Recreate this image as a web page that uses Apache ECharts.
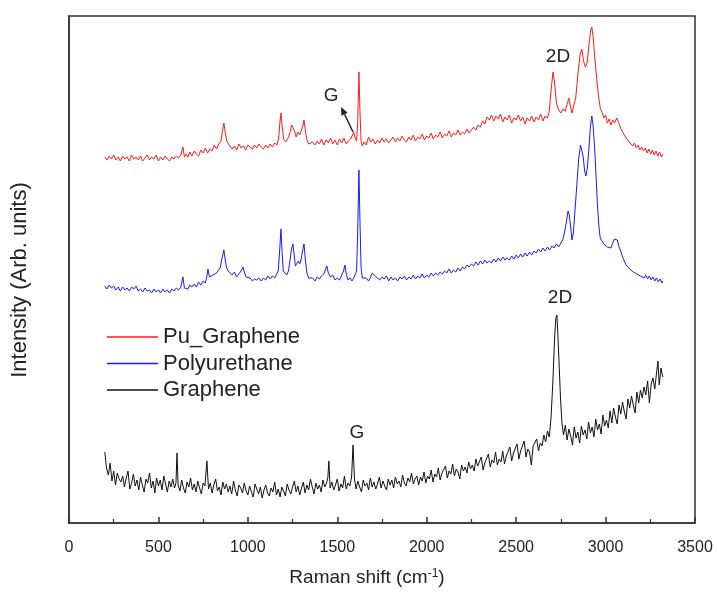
<!DOCTYPE html>
<html><head><meta charset="utf-8">
<script src="https://cdn.jsdelivr.net/npm/echarts@6/dist/echarts.min.js"></script>
<style>html,body{margin:0;padding:0;background:#fff}#c{width:717px;height:593px}</style>
</head><body><div id="c"></div>
<script>
const seriesNames = ['Pu_Graphene', 'Polyurethane', 'Graphene'];
const seriesColors = ['#ff1a1a', '#1a1aff', '#111111'];

// [Raman shift, intensity (arb.)]
const puGraphene = [[200,366],[212,363],[225,367],[237,364],[250,368],[262,363],[275,366],[287,362],[300,367],[312,364],[325,366],[337,362],[350,368],[362,364],[375,366],[387,363],[400,367],[412,362],[425,365],[437,368],[450,363],[462,366],[475,364],[487,368],[500,362],[512,366],[525,363],[537,367],[550,364],[562,362],[575,366],[587,364],[600,367],[612,365],[625,368],[637,376],[645,366],[655,369],[665,366],[675,371],[687,367],[700,372],[712,369],[725,367],[737,373],[750,370],[762,375],[775,370],[787,374],[800,372],[812,378],[825,374],[837,379],[850,382],[858,392],[866,400],[874,390],[882,382],[892,379],[900,377],[912,374],[925,377],[937,373],[950,379],[962,375],[975,377],[987,373],[1000,378],[1012,376],[1025,374],[1037,378],[1050,375],[1062,379],[1075,376],[1087,374],[1100,378],[1112,375],[1125,379],[1137,376],[1150,380],[1162,378],[1172,384],[1179,400],[1185,410],[1191,398],[1200,384],[1212,381],[1225,385],[1235,390],[1245,398],[1252,400],[1260,392],[1270,386],[1280,391],[1290,388],[1300,393],[1308,398],[1314,403],[1322,392],[1330,383],[1340,379],[1350,377],[1362,381],[1375,378],[1387,382],[1400,379],[1412,384],[1425,378],[1437,383],[1450,380],[1462,385],[1475,379],[1487,383],[1500,378],[1512,384],[1525,380],[1537,385],[1550,379],[1562,382],[1575,384],[1585,388],[1592,391],[1600,385],[1608,382],[1614,400],[1621,451],[1627,410],[1633,382],[1640,377],[1650,381],[1662,378],[1675,386],[1687,381],[1700,384],[1712,379],[1725,383],[1737,380],[1750,385],[1762,381],[1775,384],[1787,380],[1800,383],[1812,386],[1825,381],[1837,385],[1850,382],[1862,387],[1875,383],[1887,381],[1900,386],[1912,383],[1925,388],[1937,382],[1950,386],[1962,384],[1975,389],[1987,383],[2000,387],[2012,385],[2025,390],[2037,384],[2050,388],[2062,386],[2075,391],[2087,385],[2100,389],[2112,387],[2125,392],[2137,386],[2150,390],[2162,388],[2175,393],[2187,388],[2200,391],[2212,389],[2225,394],[2237,390],[2250,393],[2262,396],[2275,393],[2287,398],[2300,396],[2312,402],[2325,399],[2337,406],[2350,403],[2362,408],[2375,402],[2387,407],[2400,404],[2412,409],[2425,401],[2437,406],[2450,403],[2462,408],[2475,400],[2487,405],[2500,403],[2512,408],[2525,402],[2537,406],[2550,399],[2562,405],[2575,402],[2587,407],[2600,401],[2612,406],[2625,403],[2637,409],[2650,402],[2662,407],[2675,405],[2685,412],[2695,432],[2706,451],[2715,440],[2725,420],[2737,413],[2750,410],[2762,414],[2775,412],[2785,419],[2795,425],[2803,417],[2812,410],[2823,408],[2833,425],[2845,448],[2857,468],[2867,474],[2877,462],[2887,456],[2897,460],[2907,478],[2917,493],[2923,496],[2931,485],[2940,465],[2950,445],[2960,428],[2970,415],[2980,411],[2990,405],[3000,408],[3010,400],[3020,404],[3030,398],[3040,403],[3050,400],[3063,405],[3072,401],[3082,396],[3092,392],[3102,393],[3112,386],[3122,388],[3132,381],[3142,383],[3152,377],[3162,380],[3172,375],[3182,378],[3192,373],[3202,376],[3212,372],[3222,375],[3232,370],[3242,374],[3252,369],[3262,373],[3272,368],[3282,372],[3292,367],[3302,371],[3312,366],[3320,369]];

const polyurethane = [[200,237],[212,234],[225,238],[237,235],[250,237],[262,233],[275,236],[287,232],[300,236],[312,233],[325,235],[337,232],[350,236],[362,234],[375,237],[387,232],[400,234],[412,231],[425,235],[437,232],[450,233],[462,230],[475,234],[487,231],[500,233],[512,230],[525,234],[537,231],[550,233],[562,230],[575,234],[587,232],[600,235],[612,233],[625,236],[637,246],[645,235],[655,237],[665,234],[675,238],[687,236],[700,239],[712,236],[725,241],[737,238],[750,242],[762,240],[770,246],[777,254],[785,246],[795,244],[805,248],[815,246],[825,250],[835,249],[845,255],[852,262],[860,268],[866,273],[872,265],[880,256],[890,252],[900,250],[912,248],[925,251],[937,246],[950,249],[962,252],[973,256],[982,250],[990,246],[1000,244],[1012,245],[1025,242],[1037,244],[1050,243],[1062,245],[1075,242],[1087,245],[1100,243],[1112,247],[1125,244],[1137,247],[1150,245],[1160,247],[1170,252],[1177,270],[1185,294],[1191,272],[1198,252],[1207,250],[1217,248],[1227,252],[1235,262],[1244,274],[1252,279],[1259,268],[1266,257],[1274,259],[1282,262],[1290,259],[1298,264],[1306,272],[1314,279],[1321,264],[1330,250],[1340,245],[1350,243],[1362,245],[1375,242],[1387,246],[1400,244],[1412,247],[1425,249],[1435,254],[1442,257],[1450,250],[1462,246],[1475,248],[1487,243],[1500,245],[1512,243],[1525,248],[1535,252],[1543,258],[1551,248],[1560,243],[1572,245],[1582,242],[1592,245],[1600,244],[1608,252],[1614,290],[1621,353],[1627,300],[1633,256],[1640,245],[1650,243],[1662,245],[1675,242],[1687,246],[1695,250],[1703,252],[1712,247],[1725,245],[1737,243],[1750,246],[1762,244],[1775,247],[1787,242],[1800,246],[1812,243],[1825,245],[1837,242],[1850,246],[1862,244],[1875,247],[1887,243],[1900,246],[1912,244],[1925,248],[1937,244],[1950,247],[1962,245],[1975,249],[1987,245],[2000,248],[2012,246],[2025,250],[2037,247],[2050,250],[2062,248],[2075,251],[2087,249],[2100,252],[2112,250],[2125,254],[2137,250],[2150,253],[2162,251],[2175,255],[2187,252],[2200,256],[2212,254],[2225,258],[2237,256],[2250,259],[2262,257],[2275,261],[2287,258],[2300,262],[2312,259],[2325,263],[2337,260],[2350,262],[2362,260],[2375,264],[2387,261],[2400,265],[2412,262],[2425,266],[2437,263],[2450,265],[2462,263],[2475,267],[2487,264],[2500,268],[2512,265],[2525,269],[2537,266],[2550,270],[2562,267],[2575,271],[2587,268],[2600,272],[2612,270],[2625,274],[2637,271],[2650,275],[2662,272],[2675,276],[2687,273],[2700,277],[2712,275],[2725,279],[2737,276],[2750,280],[2760,283],[2770,290],[2780,300],[2790,312],[2797,308],[2805,296],[2812,283],[2820,290],[2830,315],[2840,340],[2850,365],[2860,378],[2867,380],[2875,366],[2883,352],[2890,347],[2898,355],[2907,375],[2915,396],[2923,407],[2930,398],[2938,378],[2946,350],[2954,320],[2962,298],[2970,285],[2980,282],[2990,279],[3000,281],[3010,276],[3020,278],[3030,275],[3040,280],[3050,284],[3058,286],[3066,283],[3075,276],[3085,272],[3095,266],[3105,262],[3115,258],[3125,260],[3135,254],[3145,256],[3155,251],[3165,253],[3175,249],[3185,251],[3195,247],[3205,249],[3215,245],[3225,248],[3235,244],[3245,247],[3255,243],[3265,246],[3275,242],[3285,245],[3295,241],[3305,244],[3315,240],[3320,242]];

const graphene = [[200,71],[210,55],[220,48],[230,60],[240,42],[250,52],[260,38],[270,50],[280,44],[290,41],[300,47],[310,36],[320,45],[330,52],[340,34],[350,40],[360,49],[370,37],[380,43],[390,33],[400,46],[410,38],[420,31],[430,44],[440,40],[450,50],[460,35],[470,42],[480,30],[490,45],[500,37],[510,43],[520,33],[530,47],[540,39],[550,31],[560,42],[570,36],[580,44],[590,35],[598,40],[604,70],[610,38],[620,32],[630,43],[640,35],[650,30],[660,41],[670,36],[680,45],[690,33],[700,39],[710,31],[720,42],[730,35],[740,29],[750,40],[760,37],[771,62],[780,34],[790,40],[800,30],[810,38],[820,44],[830,32],[840,36],[850,28],[860,41],[870,34],[880,39],[890,31],[900,37],[910,29],[920,42],[930,33],[940,27],[950,38],[960,35],[970,30],[980,40],[990,32],[1000,28],[1010,37],[1020,31],[1030,26],[1040,39],[1050,34],[1060,29],[1070,36],[1080,25],[1090,33],[1100,38],[1110,30],[1120,27],[1130,35],[1140,31],[1150,41],[1160,28],[1170,34],[1180,26],[1190,36],[1200,32],[1210,27],[1220,39],[1230,33],[1240,29],[1250,36],[1260,42],[1270,31],[1280,37],[1290,28],[1300,35],[1310,41],[1320,30],[1330,38],[1340,33],[1350,44],[1360,36],[1370,29],[1380,40],[1390,34],[1400,38],[1410,31],[1420,43],[1430,36],[1440,40],[1447,45],[1453,62],[1460,35],[1470,41],[1480,33],[1490,38],[1500,44],[1510,32],[1520,39],[1530,35],[1540,47],[1550,34],[1560,40],[1570,37],[1580,46],[1588,78],[1596,44],[1605,34],[1615,42],[1625,36],[1635,31],[1645,43],[1655,37],[1665,40],[1675,33],[1685,45],[1695,36],[1705,41],[1715,34],[1725,39],[1735,46],[1745,35],[1755,42],[1765,37],[1775,33],[1785,44],[1795,38],[1805,43],[1815,35],[1825,46],[1835,39],[1845,42],[1855,36],[1865,48],[1875,40],[1885,37],[1895,45],[1905,41],[1915,50],[1925,39],[1935,44],[1945,47],[1955,38],[1965,46],[1975,42],[1985,51],[1995,40],[2005,47],[2015,44],[2025,53],[2035,41],[2045,49],[2055,46],[2065,55],[2075,43],[2085,50],[2095,48],[2105,57],[2115,45],[2125,52],[2135,49],[2145,59],[2155,47],[2165,54],[2175,51],[2185,44],[2195,58],[2205,52],[2215,56],[2225,50],[2235,61],[2245,54],[2255,58],[2265,52],[2275,64],[2285,57],[2295,55],[2305,66],[2315,53],[2325,60],[2335,58],[2345,69],[2355,56],[2365,63],[2375,60],[2385,71],[2395,58],[2405,64],[2415,61],[2425,72],[2435,59],[2445,67],[2455,65],[2465,76],[2475,62],[2485,70],[2495,68],[2505,79],[2515,64],[2525,72],[2535,70],[2545,82],[2555,66],[2565,74],[2575,71],[2585,58],[2595,77],[2605,75],[2615,84],[2625,72],[2635,80],[2645,77],[2655,88],[2665,81],[2675,92],[2685,86],[2695,105],[2705,140],[2715,185],[2722,205],[2728,208],[2733,190],[2740,160],[2748,125],[2756,100],[2765,88],[2775,98],[2785,83],[2795,94],[2805,87],[2815,78],[2825,96],[2835,85],[2845,91],[2855,80],[2865,97],[2875,88],[2885,93],[2895,84],[2905,101],[2915,90],[2925,96],[2935,86],[2945,104],[2955,93],[2965,99],[2975,89],[2985,108],[2995,97],[3005,103],[3015,95],[3025,112],[3035,100],[3045,115],[3055,106],[3065,99],[3075,118],[3085,109],[3095,121],[3105,111],[3115,104],[3125,124],[3135,115],[3145,127],[3155,118],[3165,110],[3175,131],[3185,120],[3195,133],[3205,125],[3215,136],[3225,128],[3235,142],[3245,120],[3255,139],[3265,145],[3275,134],[3285,150],[3293,162],[3300,138],[3310,155],[3320,146]];

// annotations: [text, x, y]
const annotations = [['2D', 2734, 466], ['G', 1465, 427], ['2D', 2745, 225], ['G', 1610, 90]];
const arrowFrom = [1588, 391];
const arrowTo = [1521, 416];

const FONT = "'Liberation Sans', Arial, sans-serif";
const chart = echarts.init(document.getElementById('c'));
const allData = [puGraphene, polyurethane, graphene];

chart.setOption({
  animation: false,
  backgroundColor: '#fff',
  grid: { left: 69, right: 22, top: 16, bottom: 70, show: true, borderColor: '#333', borderWidth: 1.5, backgroundColor: 'transparent' },
  legend: {
    orient: 'vertical', left: 102, top: 321, itemWidth: 51, itemHeight: 1.5, itemGap: 4.5,
    icon: 'rect',
    data: seriesNames,
    textStyle: { fontFamily: FONT, fontSize: 22, color: '#222', lineHeight: 22 }
  },
  xAxis: {
    type: 'value', min: 0, max: 3500, interval: 500,
    axisLine: { show: true, lineStyle: { color: '#333', width: 1.5 } },
    axisTick: { show: true, inside: true, length: 6, lineStyle: { color: '#333', width: 1.5 } },
    minorTick: { show: true, splitNumber: 2, length: 4, lineStyle: { color: '#333', width: 1.2 } },
    axisLabel: { fontFamily: FONT, fontSize: 16, color: '#222', margin: 17, formatter: v => String(v) },
    splitLine: { show: false }
  },
  yAxis: {
    type: 'value', min: 0, max: 507,
    axisLine: { show: true, lineStyle: { color: '#333', width: 1.5 } },
    axisTick: { show: false }, axisLabel: { show: false }, splitLine: { show: false }
  },
  series: seriesNames.map((n, i) => ({
    name: n, type: 'line', data: allData[i], showSymbol: false, symbol: 'none',
    color: seriesColors[i],
    lineStyle: { width: 1, color: seriesColors[i] }
  }))
});

const g = [];
annotations.forEach(a => {
  const p = chart.convertToPixel({ gridIndex: 0 }, [a[1], a[2]]);
  g.push({ type: 'text', x: p[0], y: p[1], style: { text: a[0], font: '19px ' + FONT, fill: '#222', align: 'center', verticalAlign: 'middle' } });
});
const p1 = chart.convertToPixel({ gridIndex: 0 }, arrowFrom);
const p2 = chart.convertToPixel({ gridIndex: 0 }, arrowTo);
const ang = Math.atan2(p2[1] - p1[1], p2[0] - p1[0]);
const hl = 8, hw = 3.5;
const bx = p2[0] - hl * Math.cos(ang), by = p2[1] - hl * Math.sin(ang);
g.push({ type: 'line', shape: { x1: p1[0], y1: p1[1], x2: bx, y2: by }, style: { stroke: '#222', lineWidth: 1.5 } });
g.push({ type: 'polygon', shape: { points: [[p2[0], p2[1]], [bx + hw * Math.sin(ang), by - hw * Math.cos(ang)], [bx - hw * Math.sin(ang), by + hw * Math.cos(ang)]] }, style: { fill: '#222' } });
g.push({ type: 'text', x: 20, y: 280, rotation: Math.PI / 2, style: { text: 'Intensity (Arb. units)', font: '22px ' + FONT, fill: '#222', align: 'center', verticalAlign: 'middle' } });
g.push({ type: 'text', x: 367, y: 578, style: { text: '{a|Raman shift (cm}{s|-1}{a|)}', rich: { a: { font: '19px ' + FONT, fill: '#222' }, s: { font: '12px ' + FONT, fill: '#222', verticalAlign: 'top', padding: [0, 0, 8, 0] } }, align: 'center', verticalAlign: 'middle' } });
chart.setOption({ graphic: g });
</script>
</body></html>
